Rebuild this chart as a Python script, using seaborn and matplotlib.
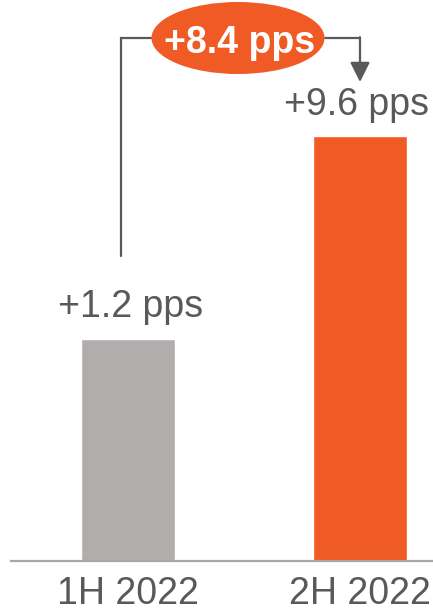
import matplotlib
matplotlib.use("Agg")
import matplotlib.pyplot as plt
from matplotlib.patches import Ellipse
import seaborn as sns
import pandas as pd

# Data
categories = ["1H 2022", "2H 2022"]
bar_heights = [2.22, 4.25]          # bar heights (relative units)
bar_labels = ["+1.2 pps", "+9.6 pps"]
bar_colors = ["#b1adac", "#f05a24"]
delta_label = "+8.4 pps"

sns.set_theme(style="white")
plt.rcParams["font.family"] = ["Liberation Sans", "DejaVu Sans"]

W, H = 433, 613
fig = plt.figure(figsize=(W / 100, H / 100), dpi=100)
ax = fig.add_axes([11 / W, 52 / H, (W - 11) / W, (H - 52) / H])

df = pd.DataFrame({"period": categories, "value": bar_heights})
sns.barplot(data=df, x="period", y="value", hue="period", order=categories,
            palette=dict(zip(categories, bar_colors)), width=0.405,
            legend=False, ax=ax, saturation=1)

ax.set_xlim(-(128 - 11) / 232, (433 - 128) / 232)
ax.set_ylim(0, 5.61)
ax.set_xlabel("")
ax.set_ylabel("")
ax.set_yticks([])
for s in ["top", "right", "left"]:
    ax.spines[s].set_visible(False)
ax.spines["bottom"].set_color("#a6a6a6")
ax.spines["bottom"].set_linewidth(1.6)
ax.tick_params(axis="x", length=0, pad=11, labelsize=27, labelcolor="#595959")
ax.patch.set_alpha(0)

txt = "#595959"
# bar value labels
ax.text(0.013, 2.44, bar_labels[0], ha="center", va="baseline", fontsize=27, color=txt)
ax.text(0.987, 4.46, bar_labels[1], ha="center", va="baseline", fontsize=27, color=txt)

# connector
xl, yl = -0.030, 5.23
ax.plot([xl, xl, (152 - 128) / 232], [3.05, yl, yl], color=txt, lw=1.6,
        solid_joinstyle="miter", zorder=3)
ax.plot([(325 - 128) / 232, 1.0], [yl, yl], color=txt, lw=1.6, zorder=3)
ax.annotate("", xy=(1.0, 4.79), xytext=(1.0, yl + 0.008),
            arrowprops=dict(arrowstyle="-|>,head_length=1.0,head_width=0.5",
                            color=txt, lw=1.6, shrinkA=0, shrinkB=0), zorder=3)

ell = Ellipse(((238 - 128) / 232, 5.23), width=173 / 232, height=0.72,
              facecolor="#f05a24", edgecolor="none", zorder=4, clip_on=False)
ax.add_patch(ell)
ax.text((240 - 128) / 232, 5.08, delta_label, ha="center", va="baseline",
        fontsize=27, fontweight="bold", color="white", zorder=5)

fig.savefig("out.png", dpi=100)
